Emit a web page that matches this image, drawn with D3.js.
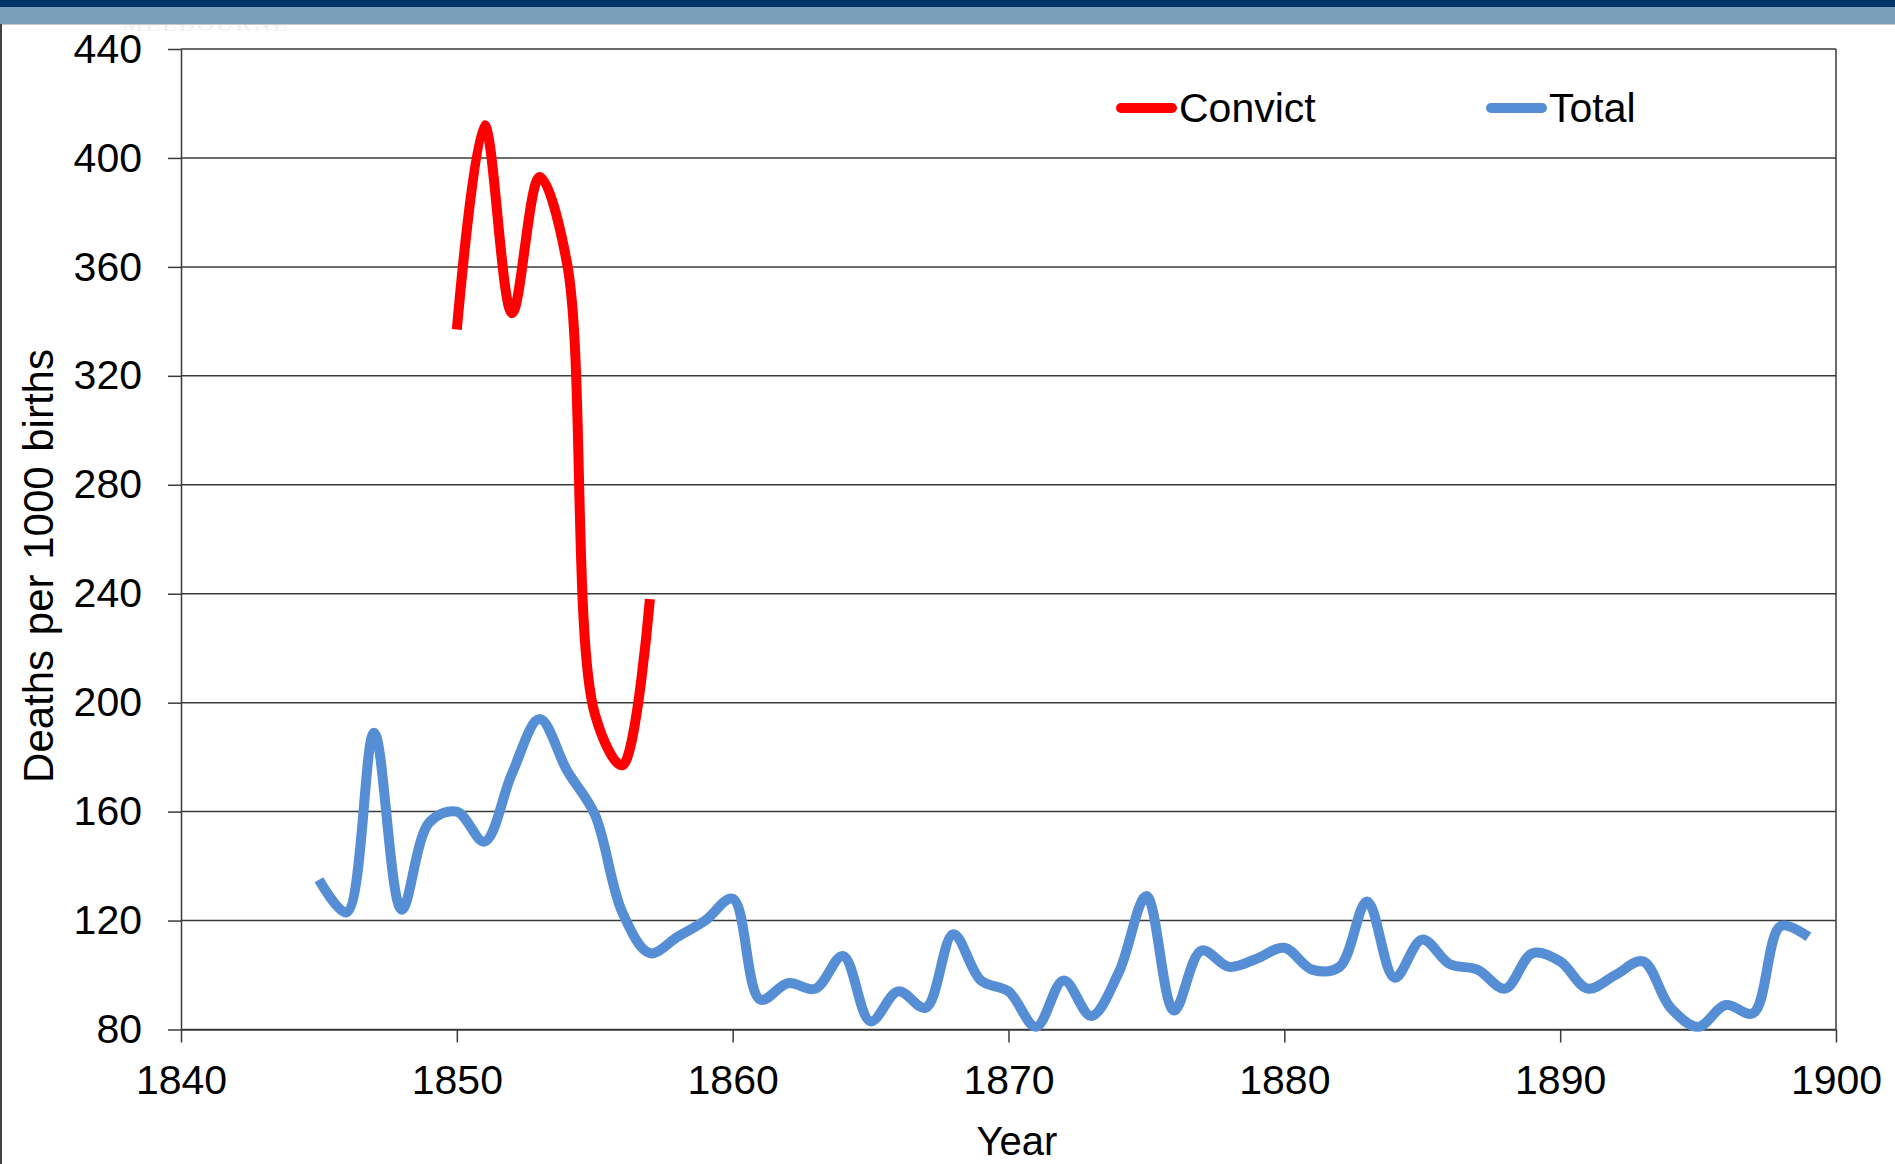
<!DOCTYPE html>
<html>
<head>
<meta charset="utf-8">
<script src="https://cdn.jsdelivr.net/npm/d3@7"></script>
<style>
  body { margin: 0; background: #fff; }
  svg { display: block; }
  text { font-family: "Liberation Sans", Arial, sans-serif; fill: #000; }
</style>
</head>
<body>
<div id="chart"></div>
<script>
// Years and values
const totalYears = [1845, 1846, 1847, 1848, 1849, 1850, 1851, 1852, 1853, 1854,
    1855, 1856, 1857, 1858, 1859, 1860, 1861, 1862, 1863, 1864,
    1865, 1866, 1867, 1868, 1869, 1870, 1871, 1872, 1873, 1874,
    1875, 1876, 1877, 1878, 1879, 1880, 1881, 1882, 1883, 1884,
    1885, 1886, 1887, 1888, 1889, 1890, 1891, 1892, 1893, 1894,
    1895, 1896, 1897, 1898, 1899];
const totalValues = [135, 123, 189, 124, 156, 160, 149, 174, 194, 175,
    159, 123, 108, 114, 120, 128, 91, 97, 95, 107,
    83, 94, 88, 115, 98, 94, 81, 98, 85, 101,
    129, 87, 109, 103, 106, 110, 102, 103, 127, 99,
    113, 104, 102, 95, 108, 105, 95, 100, 105, 88,
    81, 89, 86, 118, 114];

const convictYears = [1850, 1851, 1852, 1853, 1854, 1855, 1856, 1857];
const convictValues = [337, 412, 343, 393, 361, 196, 177, 238];

const xTicks = [1840, 1850, 1860, 1870, 1880, 1890, 1900];
const yTicks = [80, 120, 160, 200, 240, 280, 320, 360, 400, 440];

const seriesNames = ["Convict", "Total"];
const seriesColors = ["#ff0000", "#558ed5"];

const W = 1895, H = 1164;
const plot = { left: 181, right: 1836, top: 49, bottom: 1029.5 };

const svg = d3.select("#chart").append("svg")
    .attr("width", W)
    .attr("height", H);

// faint watermark peeking out under the header band
svg.append("text")
    .attr("x", 122).attr("y", 31)
    .style("font-family", "'Liberation Serif', serif")
    .style("font-size", "24px")
    .style("fill", "#f0f0f0")
    .style("letter-spacing", "2px")
    .text("MELBOURNE");

// header bands
svg.append("rect").attr("x", 0).attr("y", 0).attr("width", W).attr("height", 24).attr("fill", "#7a9fba");
svg.append("rect").attr("x", 0).attr("y", 0).attr("width", W).attr("height", 7).attr("fill", "#003366");
svg.append("line").attr("x1", 0).attr("x2", W).attr("y1", 24.5).attr("y2", 24.5)
    .attr("stroke", "#c8c8c8").attr("stroke-width", 1);
// left page border
svg.append("line").attr("x1", 1).attr("x2", 1).attr("y1", 24).attr("y2", H)
    .attr("stroke", "#444").attr("stroke-width", 2);

const x = d3.scaleLinear().domain([1840, 1900]).range([plot.left, plot.right]);
const y = d3.scaleLinear().domain([80, 440]).range([plot.bottom, plot.top]);

// gridlines
svg.append("g")
    .selectAll("line")
    .data(yTicks)
    .enter().append("line")
    .attr("x1", plot.left).attr("x2", plot.right)
    .attr("y1", d => y(d)).attr("y2", d => y(d))
    .attr("stroke", "#3a3a3a")
    .attr("stroke-width", 1.5);

// right border of plot area
svg.append("line")
    .attr("x1", plot.right).attr("x2", plot.right)
    .attr("y1", plot.top).attr("y2", plot.bottom)
    .attr("stroke", "#3a3a3a").attr("stroke-width", 1.5);

// axes
const xAxis = d3.axisBottom(x).tickValues(xTicks).tickFormat(d3.format("d"))
    .tickSizeInner(13).tickSizeOuter(0).tickPadding(22);
const yAxis = d3.axisLeft(y).tickValues(yTicks).tickFormat(d3.format("d"))
    .tickSizeInner(13).tickSizeOuter(0).tickPadding(26);

const gx = svg.append("g")
    .attr("transform", `translate(0,${plot.bottom})`)
    .call(xAxis);
const gy = svg.append("g")
    .attr("transform", `translate(${plot.left},0)`)
    .call(yAxis);

[gx, gy].forEach(g => {
    g.select(".domain").attr("stroke", "#3a3a3a").attr("stroke-width", 1.5);
    g.selectAll(".tick line").attr("stroke", "#3a3a3a").attr("stroke-width", 1.5);
    g.selectAll(".tick text")
        .style("font-family", "'Liberation Sans', Arial, sans-serif")
        .style("font-size", "41px")
        .attr("fill", "#000");
});
gx.selectAll(".tick text").attr("dy", "0.71em");

// axis titles
svg.append("text")
    .attr("x", 1017).attr("y", 1155)
    .attr("text-anchor", "middle")
    .style("font-size", "40px")
    .text("Year");

svg.append("text")
    .attr("transform", "translate(53,566) rotate(-90)")
    .attr("text-anchor", "middle")
    .style("font-size", "42px")
    .style("word-spacing", "3px")
    .text("Deaths per 1000 births");

// lines (centripetal spline, close to the spreadsheet's smoothing)
const line = d3.line()
    .x(d => x(d[0]))
    .y(d => y(d[1]))
    .curve(d3.curveCatmullRom.alpha(0.5));

const totalData = totalYears.map((yr, i) => [yr, totalValues[i]]);
const convictData = convictYears.map((yr, i) => [yr, convictValues[i]]);

svg.append("path")
    .datum(totalData)
    .attr("d", line)
    .attr("fill", "none")
    .attr("stroke", seriesColors[1])
    .attr("stroke-width", 10)
    .attr("stroke-linejoin", "round");

svg.append("path")
    .datum(convictData)
    .attr("d", line)
    .attr("fill", "none")
    .attr("stroke", seriesColors[0])
    .attr("stroke-width", 10)
    .attr("stroke-linejoin", "round");

// legend
const legendX = [1116, 1486];
const legend = svg.append("g");
seriesNames.forEach((name, i) => {
    legend.append("line")
        .attr("x1", legendX[i] + 5).attr("x2", legendX[i] + 56)
        .attr("y1", 108).attr("y2", 108)
        .attr("stroke", seriesColors[i])
        .attr("stroke-width", 10)
        .attr("stroke-linecap", "round");
    legend.append("text")
        .attr("x", legendX[i] + 63).attr("y", 122)
        .style("font-size", "41px")
        .text(name);
});
</script>
</body>
</html>
